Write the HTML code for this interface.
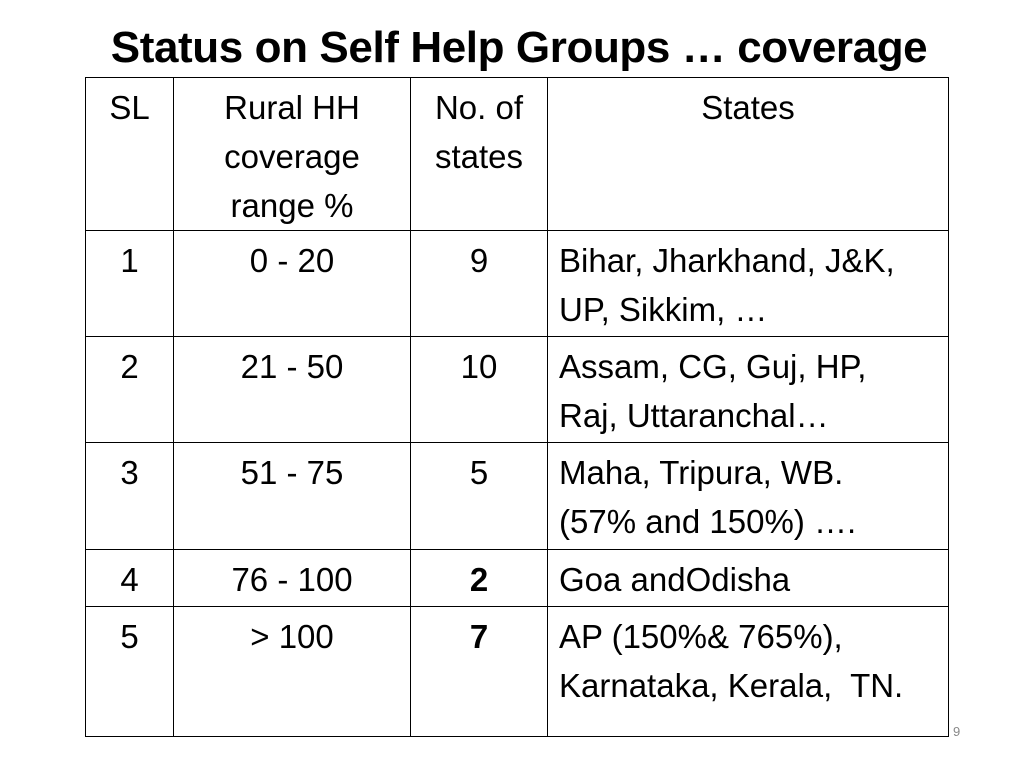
<!DOCTYPE html>
<html><head><meta charset="utf-8"><style>
body{margin:0;width:1024px;height:768px;background:#fff;position:relative;overflow:hidden;font-family:"Liberation Sans",sans-serif;color:#000}
h1{position:absolute;left:0;width:1038px;top:23px;margin:0;text-align:center;font-size:44px;line-height:50px;font-weight:bold;letter-spacing:-0.4px}
table{position:absolute;left:85px;top:77px;border-collapse:collapse;table-layout:fixed}
td{border:1.5px solid #000;vertical-align:top;padding:5px 0 0 0;font-size:33px;line-height:49px;text-align:center}
td.s{text-align:left;padding-left:11px}
.pn{position:absolute;left:953px;top:724px;font-size:13px;color:#888}
</style></head><body>
<h1>Status on Self Help Groups … coverage</h1>
<table>
<colgroup><col style="width:88px"><col style="width:237px"><col style="width:137px"><col style="width:401px"></colgroup>
<tr style="height:152px"><td>SL</td><td>Rural HH<br>coverage<br>range %</td><td>No. of<br>states</td><td>States</td></tr>
<tr style="height:106px"><td>1</td><td>0 - 20</td><td>9</td><td class="s">Bihar, Jharkhand, J&amp;K,<br>UP, Sikkim, …</td></tr>
<tr style="height:106px"><td>2</td><td>21 - 50</td><td>10</td><td class="s">Assam, CG, Guj, HP,<br>Raj, Uttaranchal…</td></tr>
<tr style="height:107px"><td>3</td><td>51 - 75</td><td>5</td><td class="s">Maha, Tripura, WB.<br>(57% and 150%) ….</td></tr>
<tr style="height:57px"><td>4</td><td>76 - 100</td><td><b>2</b></td><td class="s">Goa andOdisha</td></tr>
<tr style="height:130px"><td>5</td><td>&gt; 100</td><td><b>7</b></td><td class="s">AP (150%&amp; 765%),<br>Karnataka, Kerala,&nbsp; TN.</td></tr>
</table>
<div class="pn">9</div>
</body></html>
